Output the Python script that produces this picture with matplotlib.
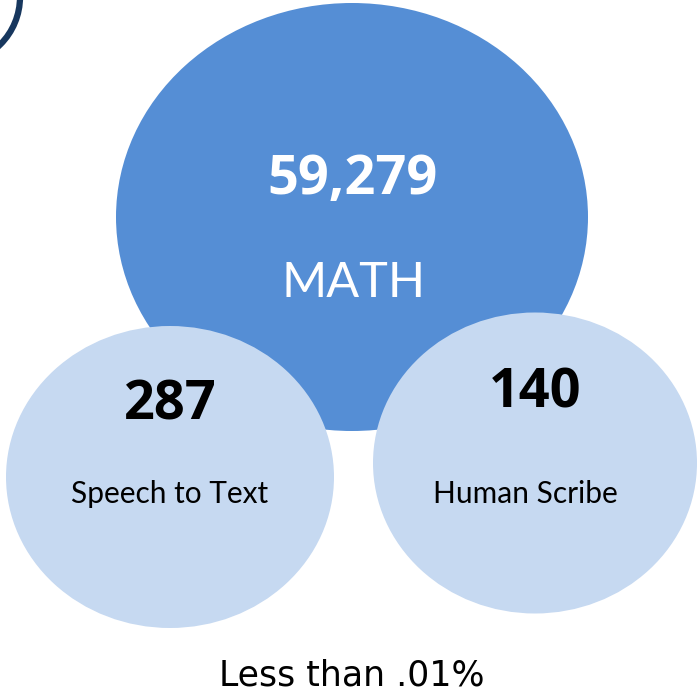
import matplotlib
matplotlib.use("Agg")
import matplotlib.pyplot as plt
from matplotlib.patches import Ellipse, Circle

# bubbles: (label, count, center x, center y, width, height)
labels = ["MATH", "Speech to Text", "Human Scribe"]
counts = [59279, 287, 140]
centers = [(352, 217), (170, 477), (535, 463)]
sizes = [(472, 428), (328, 302), (324, 301)]
colors = ["#558ED5", "#C6D9F1", "#C6D9F1"]
footnote = "Less than .01%"

fig = plt.figure(figsize=(6.97, 6.95), dpi=100)
ax = fig.add_axes([0, 0, 1, 1])
ax.set_xlim(0, 697)
ax.set_ylim(695, 0)
ax.set_aspect("equal")
ax.axis("off")

# partial dark ring in the top-left corner
ax.add_patch(Circle((-47, -3), 67, fill=False, edgecolor="#17375E", lw=4.5))

for (cx, cy), (w, h), c in zip(centers, sizes, colors):
    ax.add_patch(Ellipse((cx, cy), w, h, facecolor=c, edgecolor="none"))

# big bubble text
ax.text(353, 180, f"{counts[0]:,}", ha="center", va="center", fontsize=39,
        fontweight="bold", color="white", family="Open Sans")
ax.text(354, 283, labels[0], ha="center", va="center", fontsize=35,
        color="white", family="Lato")

# small bubbles
num_pos = [(170, 405), (535, 393)]
lab_pos = [(170, 494), (525, 494)]
for i in range(1, 3):
    ax.text(*num_pos[i - 1], f"{counts[i]:,}", ha="center", va="center",
            fontsize=39, fontweight="bold", color="black", family="Open Sans")
    ax.text(*lab_pos[i - 1], labels[i], ha="center", va="center",
            fontsize=21.5, color="black", family="Lato")

ax.text(352, 676, footnote, ha="center", va="center", fontsize=25,
        color="black", family="DejaVu Sans")

fig.savefig("out.png", dpi=100)
